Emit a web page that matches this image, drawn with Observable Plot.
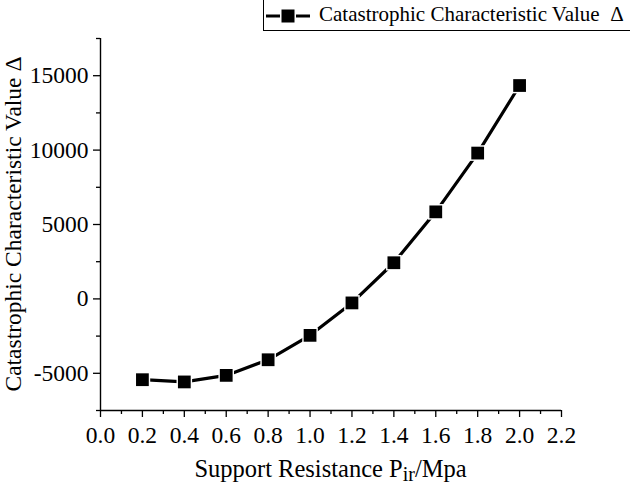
<!DOCTYPE html>
<html>
<head>
<meta charset="utf-8">
<script src="https://cdn.jsdelivr.net/npm/d3@7"></script>
<script src="https://cdn.jsdelivr.net/npm/@observablehq/plot@0.6"></script>
<style>
  html, body { margin: 0; padding: 0; background: #fff; }
  #wrap { position: relative; width: 630px; height: 485px; overflow: hidden; font-family: "Liberation Serif", "Times New Roman", Times, serif; }
  #legend {
    position: absolute; left: 263px; top: -2px; width: 400px; height: 33px;
    border: 1.3px solid #000; box-sizing: border-box; background: #fff;
    display: flex; align-items: center; white-space: pre;
    font-size: 21px; color: #000;
  }
  #legend svg { flex: none; margin-left: 1px; margin-right: 8px; }
</style>
</head>
<body>
<div id="wrap">
  <div id="chart"></div>
  <div id="legend"></div>
</div>
<script>
// Support resistance (MPa) and the catastrophic characteristic value Δ
const supportResistance = [0.2, 0.4, 0.6, 0.8, 1.0, 1.2, 1.4, 1.6, 1.8, 2.0];
const deltaValues = [-5430, -5580, -5140, -4090, -2450, -270, 2430, 5850, 9800, 14340];

const seriesName = "Catastrophic Characteristic Value  Δ";
const xTitle = ["Support Resistance P", "ir", "/Mpa"];
const yTitle = "Catastrophic Characteristic Value Δ";

const xMajorTicks = [0.0, 0.2, 0.4, 0.6, 0.8, 1.0, 1.2, 1.4, 1.6, 1.8, 2.0, 2.2];
const xMinorTicks = [0.1, 0.3, 0.5, 0.7, 0.9, 1.1, 1.3, 1.5, 1.7, 1.9, 2.1];
const yMajorTicks = [-5000, 0, 5000, 10000, 15000];
const yMinorTicks = [-7500, -2500, 2500, 7500, 12500, 17500];

const xDomain = [0, 2.2];
const yDomain = [-7500, 17500];

const data = supportResistance.map((x, i) => ({x, delta: deltaValues[i]}));

const font = "\"Liberation Serif\", \"Times New Roman\", Times, serif";
const tickFont = 23.5;
const titleFont = 24.5;

const chart = Plot.plot({
  width: 630,
  height: 485,
  marginLeft: 100,
  marginRight: 69,
  marginTop: 38,
  marginBottom: 75,
  style: {fontFamily: font, fontSize: `${tickFont}px`, color: "#000", background: "#fff"},
  x: {domain: xDomain},
  y: {domain: yDomain},
  marks: [
    Plot.axisX({ticks: xMajorTicks, tickSize: 7, tickPadding: 9, strokeWidth: 1.3,
                tickFormat: d => d.toFixed(1), fontSize: tickFont, label: null}),
    Plot.axisX({ticks: xMinorTicks, tickSize: 4, strokeWidth: 1.3, text: null, label: null}),
    Plot.axisY({ticks: yMajorTicks, tickSize: 7, tickPadding: 5, strokeWidth: 1.3,
                tickFormat: d => String(d), fontSize: tickFont, label: null}),
    Plot.axisY({ticks: yMinorTicks, tickSize: 4, strokeWidth: 1.3, text: null, label: null}),
    Plot.ruleX([xDomain[0]], {y1: yDomain[0], y2: yDomain[1], stroke: "#000", strokeWidth: 1.4}),
    Plot.ruleY([yDomain[0]], {x1: xDomain[0], x2: xDomain[1], stroke: "#000", strokeWidth: 1.4}),
    Plot.line(data, {x: "x", y: "delta", stroke: "#000", strokeWidth: 3.2}),
    // white halo leaves a small gap between the line and each marker
    Plot.dot(data, {x: "x", y: "delta", symbol: "square", r: 8.8, fill: "#fff", stroke: "none"}),
    Plot.dot(data, {x: "x", y: "delta", symbol: "square", r: 7.2, fill: "#000", stroke: "none"})
  ]
});

const svg = d3.select(chart);
const xs = chart.scale("x"), ys = chart.scale("y");
const xMid = (xs.apply(xDomain[0]) + xs.apply(xDomain[1])) / 2;
const yMid = (ys.apply(yDomain[0]) + ys.apply(yDomain[1])) / 2;

// axis titles (the x title carries a subscript)
const xt = svg.append("text")
  .attr("x", xMid).attr("y", 477)
  .attr("text-anchor", "middle")
  .attr("font-family", font)
  .attr("font-size", titleFont).attr("fill", "#000");
xt.append("tspan").text(xTitle[0]);
xt.append("tspan").attr("dy", 4).attr("font-size", 20).text(xTitle[1]);
xt.append("tspan").attr("dy", -4).text(xTitle[2]);

svg.append("text")
  .attr("transform", `translate(21,${yMid}) rotate(-90)`)
  .attr("text-anchor", "middle")
  .attr("font-family", font)
  .attr("font-size", 23.5).attr("fill", "#000")
  .text(yTitle);

document.getElementById("chart").appendChild(chart);

// legend: line with a square marker, then the series name
const legend = document.getElementById("legend");
const sym = d3.create("svg").attr("width", 46).attr("height", 30);
sym.append("line").attr("x1", 1).attr("x2", 45).attr("y1", 16).attr("y2", 16)
  .attr("stroke", "#000").attr("stroke-width", 3.2);
sym.append("rect").attr("x", 15).attr("y", 8).attr("width", 16).attr("height", 16).attr("fill", "#fff");
sym.append("rect").attr("x", 16.5).attr("y", 9.5).attr("width", 13).attr("height", 13).attr("fill", "#000");
legend.appendChild(sym.node());
const lt = document.createElement("span");
lt.textContent = seriesName;
legend.appendChild(lt);
</script>
</body>
</html>
